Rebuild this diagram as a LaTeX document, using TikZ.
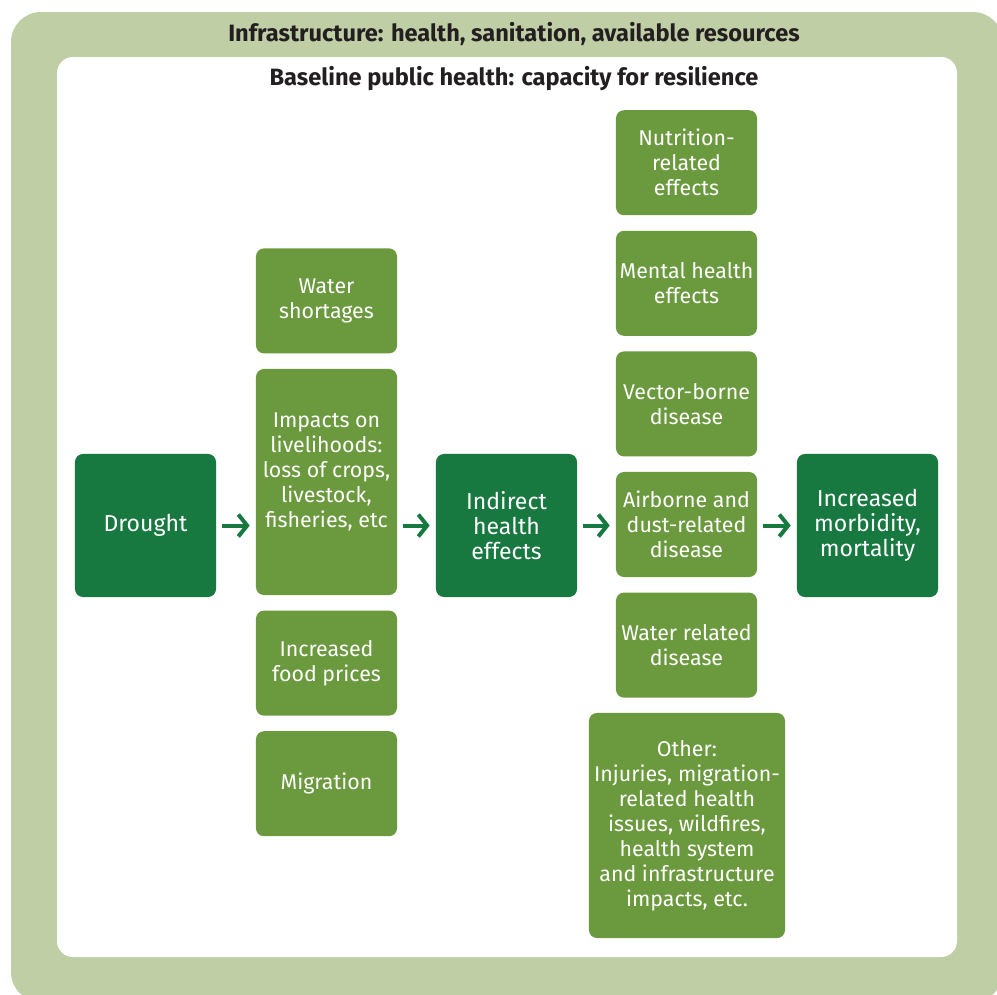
\documentclass[tikz,border=0pt]{standalone}
\usepackage{fontspec}
\setmainfont{Fira Sans}
\usetikzlibrary{positioning,arrows.meta}
\definecolor{bandgreen}{RGB}{192,206,166}
\definecolor{boxgreen}{RGB}{107,154,62}
\definecolor{darkgreen}{RGB}{23,120,64}
\definecolor{titlegray}{RGB}{35,31,32}
\tikzset{
  effect/.style={rectangle, rounded corners=0.2cm, fill=boxgreen, text=white, align=center, minimum width=3.525cm, minimum height=2.625cm, inner sep=0pt, font=\fontsize{15.2}{17.8}\selectfont},
  stage/.style={effect, fill=darkgreen, minimum height=3.575cm, font=\fontsize{16.4}{17.8}\selectfont},
  link/.style={line width=0.1cm, draw=darkgreen, -{Straight Barb[length=0.22cm, width=0.55cm]}, shorten <=0.15cm, shorten >=0.15cm},
  heading/.style={text=titlegray, font=\bfseries\fontsize{16.8}{20}\selectfont}
}
\begin{document}
\begin{tikzpicture}[x=0.025cm, y=-0.025cm]
    \useasboundingbox (0,0) rectangle (997,994);
    % frames
    \fill [bandgreen, rounded corners=0.75cm] (11,12) rectangle (1003,1002);
    \fill [white, rounded corners=0.4cm] (57,57) rectangle (957,957);
    \node (infra) [heading] at (514,34) {Infrastructure: health, sanitation, available resources};
    \node (baseline) [heading] at (514,79) {Baseline public health: capacity for resilience};

    % main chain
    \node (drought) [stage] at (145.5,525.5) {Drought};
    \node (indirect) [stage] at (506.5,525.5) {Indirect\\health\\effects};
    \node (morbidity) [stage] at (867.5,525.5) {Increased\\morbidity,\\mortality};

    % first column
    \node (impacts) [effect, minimum height=5.65cm] at (326.5,482) {Impacts on\\livelihoods:\\loss of crops,\\livestock,\\fisheries, etc\\[-0.2cm]\strut};
    \node (water) [effect, above=0.375cm of impacts] {Water\\shortages};
    \node (prices) [effect, below=0.375cm of impacts] {Increased\\food prices};
    \node (migration) [effect, below=0.375cm of prices] {Migration};

    % second column
    \node (airborne) [effect] at (686.5,524.5) {Airborne and\\dust-related\\disease};
    \node (vector) [effect, above=0.375cm of airborne] {Vector-borne\\disease};
    \node (mental) [effect, above=0.375cm of vector] {Mental health\\effects};
    \node (nutrition) [effect, above=0.375cm of mental] {Nutrition-\\related\\effects};
    \node (waterdis) [effect, below=0.375cm of airborne] {Water related\\disease};
    \node (other) [effect, minimum width=4.9cm, minimum height=5.625cm] at (687,825.5) {Other:\\Injuries, migration-\\related health\\issues, wildfires,\\health system\\and infrastructure\\impacts, etc.};

    \draw [link] (drought.east) -- (drought.east -| impacts.west);
    \draw [link] (drought.east -| impacts.east) -- (indirect.west);
    \draw [link] (indirect.east) -- (indirect.east -| airborne.west);
    \draw [link] (indirect.east -| airborne.east) -- (morbidity.west);
\end{tikzpicture}
\end{document}
